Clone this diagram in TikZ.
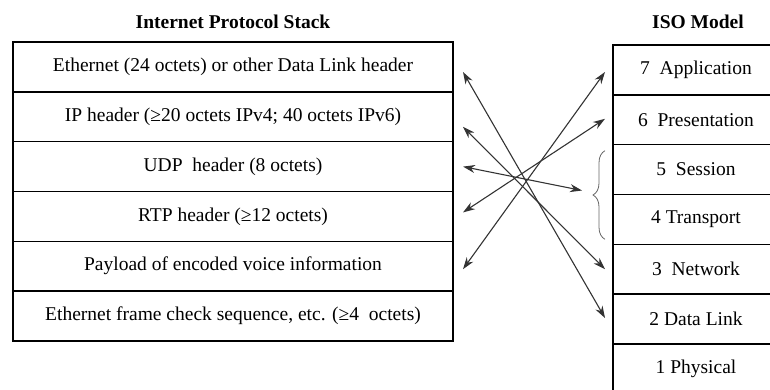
\documentclass[tikz,border=0pt]{standalone}
\usepackage{fontspec}
\setmainfont{Liberation Serif}
\usepackage{tikz}
\usetikzlibrary{positioning,arrows.meta,decorations.pathreplacing}

\tikzset{
	layer/.style={draw, line width=1.5pt, outer sep=0pt, inner sep=0pt, minimum height=49.8pt},
	stackbox/.style={layer, minimum width=440pt},
	isobox/.style={layer, minimum width=166pt},
	title/.style={font=\fontsize{19.5}{23}\selectfont\bfseries},
	link/.style={{Stealth[length=12pt,width=8pt]}-{Stealth[length=12pt,width=8pt]}, line width=1.1pt, draw=black!80}
}

\begin{document}
\begin{tikzpicture}[x=1pt, y=-1pt, font=\fontsize{19.5}{23}\selectfont]
		\useasboundingbox (0,0) rectangle (770,390);
		\clip (0,0) rectangle (770,390);
		\node[title] (T1) at (233,22) {Internet Protocol Stack};
		\node[title] (T2) at (698,22) {ISO Model};
		% protocol stack
		\node[stackbox] (P1) at (233,67) {Ethernet (24 octets) or other Data Link header};
		\node[stackbox, below=0pt of P1] (P2) {IP header (≥20 octets IPv4; 40 octets IPv6)};
		\node[stackbox, below=0pt of P2] (P3) {UDP\ \ header (8 octets)};
		\node[stackbox, below=0pt of P3] (P4) {RTP header (≥12 octets)};
		\node[stackbox, below=0pt of P4] (P5) {Payload of encoded voice information};
		\node[stackbox, below=0pt of P5] (P6) {Ethernet frame check sequence, etc. (≥4\ \ octets)};
		% iso model
		\node[isobox] (O7) at (696,70) {7\ \ Application};
		\node[isobox, below=0pt of O7] (O6) {6\ \ Presentation};
		\node[isobox, below=0pt of O6] (O5) {5\ \ Session};
		\node[isobox, below=0pt of O5] (O4) {4 Transport};
		\node[isobox, below=0pt of O4] (O3) {3\ \ Network};
		\node[isobox, below=0pt of O3] (O2) {2 Data Link};
		\node[isobox, below=0pt of O2] (O1) {1 Physical};
		% brace
		\draw[decorate, decoration={brace, amplitude=12pt}, line width=0.8pt, draw=black!60]
			([xshift=-8pt,yshift=5pt]O4.south west) -- ([xshift=-8pt,yshift=-6pt]O5.north west);
		% mapping
		\draw[link] ([xshift=10pt,yshift=-5pt]P1.east) -- ([xshift=-8pt,yshift=1pt]O2.west);
		\draw[link] ([xshift=10pt,yshift=-10pt]P2.east) -- ([xshift=-8pt]O3.west);
		\draw[link] ([xshift=10pt]P3.east) -- ([xshift=-31pt,yshift=4pt]O5.south west);
		\draw[link] ([xshift=10pt,yshift=4pt]P4.east) -- ([xshift=-8pt,yshift=1pt]O6.west);
		\draw[link] ([xshift=10pt,yshift=-3pt]P5.east) -- ([xshift=-8pt,yshift=-2pt]O7.west);
	\end{tikzpicture}
\end{document}
